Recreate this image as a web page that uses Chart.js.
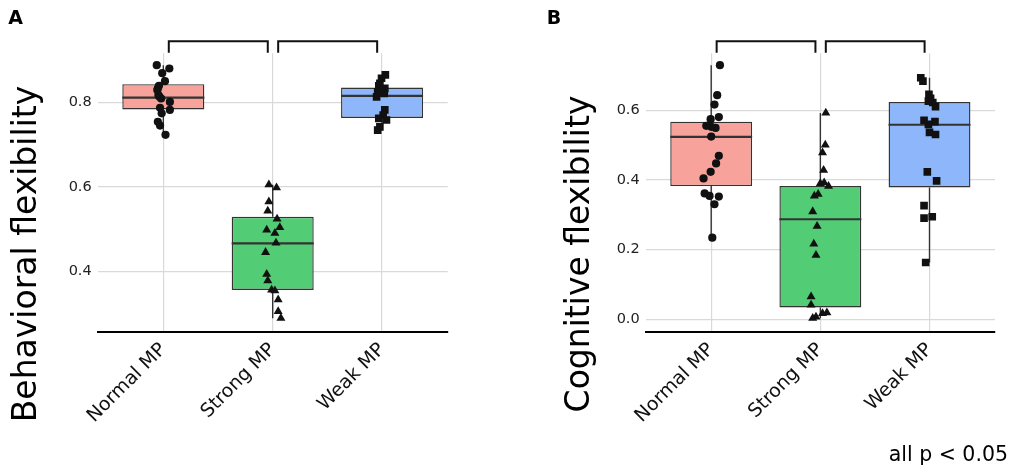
<!DOCTYPE html>
<html>
<head>
<meta charset="utf-8">
<script src="https://cdn.jsdelivr.net/npm/chart.js@4.4.1/dist/chart.umd.min.js"></script>
<style>
  html, body { margin: 0; padding: 0; background: #fff; }
  #wrap { position: relative; width: 1013px; height: 472px; }
  canvas { position: absolute; top: 0; }
  #panelA { left: 0; }
  #panelB { left: 506px; }
</style>
</head>
<body>
<div id="wrap">
  <canvas id="panelA" width="506" height="472"></canvas>
  <canvas id="panelB" width="507" height="472"></canvas>
</div>
<script>
const categories = ['Normal MP', 'Strong MP', 'Weak MP'];
const groupColors = ['#f7a29a', '#52cc75', '#8eb6fb'];
const pointShapes = ['circle', 'triangle', 'rect'];
const pointSizes = [4.1, 5.2, 5.4];

// panel A - behavioral flexibility
const behavTicks = [0.4, 0.6, 0.8];
const behavQ1 = [0.783, 0.356, 0.763];
const behavMedian = [0.811, 0.466, 0.815];
const behavQ3 = [0.843, 0.529, 0.835];
const behavLow = [0.723, 0.289, 0.734];
const behavHigh = [0.888, 0.605, 0.865];

const behavNormal = [0.888, 0.880, 0.869, 0.850, 0.839, 0.833, 0.829, 0.817, 0.813, 0.809, 0.801, 0.787, 0.782, 0.774, 0.754, 0.745, 0.723];
const behavNormalJitter = [-0.06, 0.055, -0.01, 0.015, -0.04, -0.05, -0.055, -0.045, -0.035, -0.02, 0.06, -0.03, 0.06, -0.015, -0.05, -0.03, 0.02];
const behavStrong = [0.605, 0.598, 0.565, 0.543, 0.524, 0.504, 0.498, 0.490, 0.467, 0.445, 0.393, 0.378, 0.356, 0.354, 0.333, 0.305, 0.289];
const behavStrongJitter = [-0.035, 0.035, -0.035, -0.045, 0.04, 0.065, -0.055, 0.02, 0.03, -0.065, -0.055, -0.045, -0.01, 0.02, 0.05, 0.05, 0.075];
const behavWeak = [0.865, 0.857, 0.845, 0.839, 0.833, 0.825, 0.821, 0.813, 0.782, 0.770, 0.762, 0.758, 0.742, 0.734];
const behavWeakJitter = [0.03, -0.005, -0.02, -0.03, 0.025, -0.04, 0.02, -0.05, 0.025, 0.01, -0.03, 0.04, -0.02, -0.04];

// panel B - cognitive flexibility
const cogTicks = [0.0, 0.2, 0.4, 0.6];
const cogQ1 = [0.382, 0.034, 0.378];
const cogMedian = [0.523, 0.287, 0.558];
const cogQ3 = [0.567, 0.382, 0.623];
const cogLow = [0.234, 0.003, 0.163];
const cogHigh = [0.729, 0.592, 0.693];

const cogNormal = [0.729, 0.643, 0.616, 0.580, 0.574, 0.555, 0.552, 0.549, 0.524, 0.469, 0.447, 0.423, 0.404, 0.361, 0.354, 0.352, 0.330, 0.234];
const cogNormalJitter = [0.08, 0.055, 0.03, 0.07, -0.005, -0.045, 0.0, 0.04, 0.0, 0.07, 0.045, -0.005, -0.07, -0.06, -0.015, 0.07, 0.03, 0.01];
const cogStrong = [0.592, 0.500, 0.478, 0.428, 0.392, 0.390, 0.382, 0.359, 0.354, 0.309, 0.267, 0.216, 0.184, 0.065, 0.041, 0.019, 0.017, 0.007, 0.003];
const cogStrongJitter = [0.05, 0.045, 0.02, 0.03, 0.035, 0.0, 0.075, -0.02, -0.055, -0.07, -0.03, -0.06, -0.04, -0.085, -0.085, 0.06, 0.02, -0.04, -0.07];
const cogWeak = [0.693, 0.683, 0.645, 0.634, 0.626, 0.622, 0.610, 0.571, 0.567, 0.559, 0.536, 0.530, 0.423, 0.397, 0.326, 0.294, 0.290, 0.163];
const cogWeakJitter = [-0.08, -0.06, -0.005, 0.01, -0.01, 0.03, 0.055, -0.05, 0.05, -0.01, 0.0, 0.055, -0.02, 0.065, -0.05, 0.025, -0.05, -0.035];

const gridColor = '#d9d9d9';
const FONT = 'DejaVu Sans';

// brackets, panel letter, y title, note
const panelDecor = {
  id: 'panelDecor',
  afterDraw(chart, args, o) {
    const { ctx, chartArea } = chart;
    const x = chart.scales.x;
    ctx.save();
    ctx.strokeStyle = '#111';
    ctx.lineWidth = 2;
    const yTop = chartArea.top - 12, yLeg = chartArea.top - 0.5;
    [[1, 2], [2, 3]].forEach(([a, b]) => {
      const xa = x.getPixelForValue(a + 0.05), xb = x.getPixelForValue(b - 0.045);
      ctx.beginPath();
      ctx.moveTo(xa, yLeg);
      ctx.lineTo(xa, yTop);
      ctx.lineTo(xb, yTop);
      ctx.lineTo(xb, yLeg);
      ctx.stroke();
    });

    ctx.fillStyle = '#000';
    ctx.textBaseline = 'alphabetic';
    ctx.textAlign = 'left';
    ctx.font = 'bold 19px "' + FONT + '"';
    ctx.fillText(o.letter, o.letterX, 24);

    ctx.save();
    ctx.translate(o.titleX, 254);
    ctx.rotate(-Math.PI / 2);
    ctx.textAlign = 'center';
    ctx.font = '33px "' + FONT + '"';
    ctx.fillText(o.title, 0, 0);
    ctx.restore();

    if (o.note) {
      ctx.textAlign = 'right';
      ctx.font = '20.5px "' + FONT + '"';
      ctx.fillText(o.note, o.noteX, 461);
    }
    ctx.restore();
  }
};

function segments(parts) {
  const out = [];
  parts.forEach(p => { out.push(p[0], p[1], { x: p[1].x, y: null }); });
  return out;
}

function makePanel(id, p) {
  const pointSets = p.points.map((grp, g) => ({
    type: 'scatter',
    data: grp[0].map((v, i) => ({ x: g + 1 + grp[1][i], y: v })),
    pointStyle: pointShapes[g],
    pointRadius: pointSizes[g],
    backgroundColor: '#111',
    borderColor: '#111',
    borderWidth: 0,
    order: 0
  }));

  const medians = {
    type: 'line',
    data: segments(p.med.map((m, g) => [{ x: g + 1 - 0.375, y: m }, { x: g + 1 + 0.375, y: m }])),
    borderColor: '#333',
    borderWidth: 2.2,
    pointRadius: 0,
    spanGaps: false,
    order: 1
  };

  const boxes = {
    type: 'bar',
    data: p.q1.map((q, g) => ({ x: g + 1, y: [q, p.q3[g]] })),
    backgroundColor: groupColors,
    borderColor: '#333',
    borderWidth: 1.4,
    borderSkipped: false,
    categoryPercentage: 0.75,
    barPercentage: 1,
    order: 2
  };

  const whiskerParts = [];
  p.q1.forEach((q, g) => {
    whiskerParts.push([{ x: g + 1, y: p.q3[g] }, { x: g + 1, y: p.hi[g] }]);
    whiskerParts.push([{ x: g + 1, y: q }, { x: g + 1, y: p.lo[g] }]);
  });
  const whiskers = {
    type: 'line',
    data: segments(whiskerParts),
    borderColor: '#333',
    borderWidth: 1.4,
    pointRadius: 0,
    spanGaps: false,
    order: 3
  };

  return new Chart(document.getElementById(id), {
    type: 'scatter',
    data: { datasets: [...pointSets, medians, boxes, whiskers] },
    plugins: [panelDecor],
    options: {
      responsive: false,
      animation: false,
      events: [],
      layout: { padding: { top: 53.3, right: p.rightPad, left: 0, bottom: 0 } },
      plugins: {
        legend: { display: false },
        tooltip: { enabled: false },
        panelDecor: p.decor
      },
      scales: {
        x: {
          type: 'linear',
          min: 0.4,
          max: 3.6,
          offset: false,
          afterBuildTicks: s => { s.ticks = categories.map((c, i) => ({ value: i + 1 })); },
          afterFit: s => { s.height = 140.3; },
          ticks: {
            autoSkip: false,
            minRotation: 45,
            maxRotation: 45,
            padding: 7,
            color: '#111',
            font: { family: FONT, size: 19 },
            callback: v => categories[v - 1]
          },
          grid: { color: gridColor, lineWidth: 1.2, drawTicks: false, offset: false },
          border: { display: true, color: '#000', width: 2 }
        },
        y: {
          type: 'linear',
          min: p.yMin,
          max: p.yMax,
          afterBuildTicks: s => { s.ticks = p.yTicks.map(v => ({ value: v })); },
          afterFit: s => { s.width = p.yAxisWidth; },
          ticks: {
            padding: 6,
            color: '#222',
            font: { family: FONT, size: 14.5 },
            callback: v => v.toFixed(1)
          },
          grid: { color: gridColor, lineWidth: 1.2, drawTicks: false },
          border: { display: false }
        }
      }
    }
  });
}

makePanel('panelA', {
  yMin: 0.257, yMax: 0.916, yTicks: behavTicks,
  q1: behavQ1, med: behavMedian, q3: behavQ3, lo: behavLow, hi: behavHigh,
  points: [[behavNormal, behavNormalJitter], [behavStrong, behavStrongJitter], [behavWeak, behavWeakJitter]],
  yAxisWidth: 97.7, rightPad: 58.3,
  decor: { letter: 'A', letterX: 8.3, title: 'Behavioral flexibility', titleX: 35.7 }
});

makePanel('panelB', {
  yMin: -0.0356, yMax: 0.763, yTicks: cogTicks,
  q1: cogQ1, med: cogMedian, q3: cogQ3, lo: cogLow, hi: cogHigh,
  points: [[cogNormal, cogNormalJitter], [cogStrong, cogStrongJitter], [cogWeak, cogWeakJitter]],
  yAxisWidth: 139.7, rightPad: 18,
  decor: { letter: 'B', letterX: 40.7, title: 'Cognitive flexibility', titleX: 83, note: 'all p < 0.05', noteX: 502 }
});
</script>
</body>
</html>
